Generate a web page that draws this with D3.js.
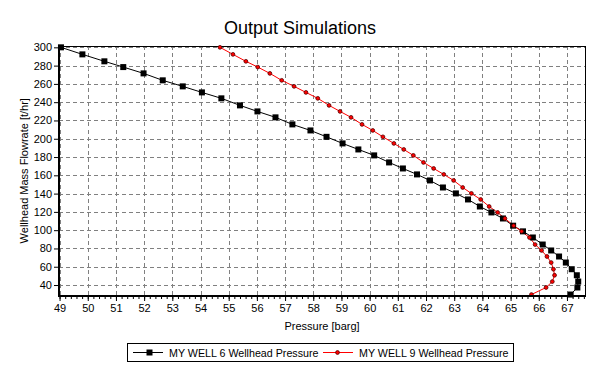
<!DOCTYPE html>
<html><head><meta charset="utf-8">
<script src="https://cdn.jsdelivr.net/npm/d3@7"></script>
<style>
body{margin:0;background:#fff}
svg{display:block}
text{font-family:"Liberation Sans",Arial,sans-serif;fill:#000}
</style>
</head><body>
<svg id="c" width="599" height="380"></svg>
<script>
// ---- data ----
const flowrate = [300, 292.3, 284.7, 278.4, 271.5, 263.9, 257.3, 250.7, 244.2, 236.5,
  229.9, 223.4, 215.7, 209.1, 202.1, 194.9, 188.3, 181.8, 174.1, 167.5,
  161.0, 154.4, 146.7, 140.2, 133.6, 125.9, 119.4, 112.8, 104.9, 98.7,
  92.0, 84.3, 77.8, 71.2, 64.6, 57.3, 50.7, 43.8, 37.3, 29.6];
const well6Pressure = [49.05, 49.81, 50.59, 51.26, 51.98, 52.66, 53.37, 54.05, 54.74, 55.40,
  56.02, 56.66, 57.26, 57.90, 58.47, 59.04, 59.60, 60.16, 60.69, 61.18,
  61.68, 62.14, 62.60, 63.06, 63.49, 63.91, 64.32, 64.73, 65.09, 65.44,
  65.79, 66.14, 66.44, 66.72, 66.96, 67.17, 67.35, 67.40, 67.37, 67.13];
const well9Pressure = [54.69, 55.15, 55.61, 56.03, 56.46, 56.88, 57.32, 57.74, 58.16, 58.56,
  58.95, 59.34, 59.73, 60.11, 60.47, 60.86, 61.21, 61.55, 61.91, 62.27,
  62.63, 62.98, 63.30, 63.61, 63.94, 64.24, 64.54, 64.80, 65.11, 65.39,
  65.67, 65.87, 66.10, 66.29, 66.44, 66.52, 66.56, 66.48, 66.26, 65.74];
const seriesNames = ["MY WELL 6 Wellhead Pressure", "MY WELL 9 Wellhead Pressure"];
const xTickLabels = [49,50,51,52,53,54,55,56,57,58,59,60,61,62,63,64,65,66,67];
const yTickLabels = [40,60,80,100,120,140,160,180,200,220,240,260,280,300];
const titleText = "Output Simulations";
const xTitle = "Pressure [barg]";
const yTitle = "Wellhead Mass Flowrate [t/hr]";

// ---- layout ----
const L = 59, R = 585, T = 45.5, B = 296;
const svg = d3.select("#c");
const x = d3.scaleLinear().domain([48.98, 67.64]).range([L, R]);
const y = d3.scaleLinear().domain([28, 302]).range([B, T]);

// grid
const grid = svg.append("g").attr("stroke", "#808080").attr("stroke-width", 1)
  .attr("stroke-dasharray", "4,3").attr("shape-rendering", "crispEdges");
grid.selectAll(".gx").data(xTickLabels).join("line")
  .attr("x1", d => Math.round(x(d)) + 0.5).attr("x2", d => Math.round(x(d)) + 0.5)
  .attr("y1", T).attr("y2", B);
grid.selectAll(".gy").data(yTickLabels).join("line")
  .attr("y1", d => Math.round(y(d)) + 0.5).attr("y2", d => Math.round(y(d)) + 0.5)
  .attr("x1", L).attr("x2", R);

// frame (top/right thin)
svg.append("rect").attr("x", L + 0.5).attr("y", Math.round(T) + 0.5)
  .attr("width", R - L).attr("height", B - Math.round(T))
  .attr("fill", "none").attr("stroke", "#000").attr("stroke-width", 1)
  .attr("shape-rendering", "crispEdges");

// series
const data6 = flowrate.map((f, i) => ({x: well6Pressure[i], y: f}));
const data9 = flowrate.map((f, i) => ({x: well9Pressure[i], y: f}));
const line = d3.line().x(d => x(d.x)).y(d => y(d.y));

svg.append("path").datum(data6).attr("d", line)
  .attr("fill", "none").attr("stroke", "#000").attr("stroke-width", 1);
svg.append("path").datum(data9).attr("d", line)
  .attr("fill", "none").attr("stroke", "#ff0000").attr("stroke-width", 1);

svg.append("g").selectAll("rect").data(data6).join("rect")
  .attr("x", d => x(d.x) - 3).attr("y", d => y(d.y) - 3)
  .attr("width", 6).attr("height", 6).attr("fill", "#000");
svg.append("g").selectAll("circle").data(data9).join("circle")
  .attr("cx", d => x(d.x)).attr("cy", d => y(d.y)).attr("r", 1.9)
  .attr("fill", "#ff0000").attr("stroke", "#500000").attr("stroke-width", 0.8);

// axes
const fmt = d3.format("d");
const xMinor = d3.range(49, 67.61, 0.2);
const gxMinor = svg.append("g").attr("transform", `translate(0,${B})`)
  .call(d3.axisBottom(x).tickValues(xMinor).tickSize(3).tickFormat(""));
gxMinor.select(".domain").remove();
const gx = svg.append("g").attr("transform", `translate(0,${B})`)
  .call(d3.axisBottom(x).tickValues(xTickLabels).tickSize(5).tickPadding(3).tickFormat(fmt));
gx.select(".domain").remove();
gx.selectAll("text").attr("font-size", 11).attr("font-family", '"Liberation Sans",Arial,sans-serif');

const gy = svg.append("g").attr("transform", `translate(${L},0)`)
  .call(d3.axisLeft(y).tickValues(yTickLabels).tickSize(5).tickPadding(2).tickFormat(fmt));
gy.select(".domain").remove();
gy.selectAll("text").attr("font-size", 11).attr("font-family", '"Liberation Sans",Arial,sans-serif');

// thick axis lines
svg.append("line").attr("x1", L).attr("x2", L).attr("y1", T).attr("y2", B + 1)
  .attr("stroke", "#000").attr("stroke-width", 2);
svg.append("line").attr("x1", L - 1).attr("x2", R + 1).attr("y1", B).attr("y2", B)
  .attr("stroke", "#000").attr("stroke-width", 2);

// titles
svg.append("text").attr("x", 300).attr("y", 34).attr("text-anchor", "middle")
  .attr("font-size", 18).text(titleText);
svg.append("text").attr("x", (L + R) / 2).attr("y", 330).attr("text-anchor", "middle")
  .attr("font-size", 11).text(xTitle);
svg.append("text").attr("transform", `translate(28,${(T + B) / 2}) rotate(-90)`)
  .attr("text-anchor", "middle").attr("font-size", 11).text(yTitle);

// legend
const lg = svg.append("g");
lg.append("rect").attr("x", 127.5).attr("y", 343.5).attr("width", 386).attr("height", 18)
  .attr("fill", "#fff").attr("stroke", "#000").attr("stroke-width", 1);
const ly = 352.5;
lg.append("line").attr("x1", 133).attr("x2", 163).attr("y1", ly).attr("y2", ly)
  .attr("stroke", "#000");
lg.append("rect").attr("x", 146.5).attr("y", ly - 3).attr("width", 6).attr("height", 6).attr("fill", "#000");
lg.append("text").attr("x", 169).attr("y", ly + 4).attr("font-size", 10.7).text(seriesNames[0]);
lg.append("line").attr("x1", 323).attr("x2", 353).attr("y1", ly).attr("y2", ly)
  .attr("stroke", "#ff0000");
lg.append("circle").attr("cx", 337.5).attr("cy", ly).attr("r", 1.9)
  .attr("fill", "#ff0000").attr("stroke", "#500000").attr("stroke-width", 0.8);
lg.append("text").attr("x", 359).attr("y", ly + 4).attr("font-size", 10.7).text(seriesNames[1]);
</script>
</body></html>
